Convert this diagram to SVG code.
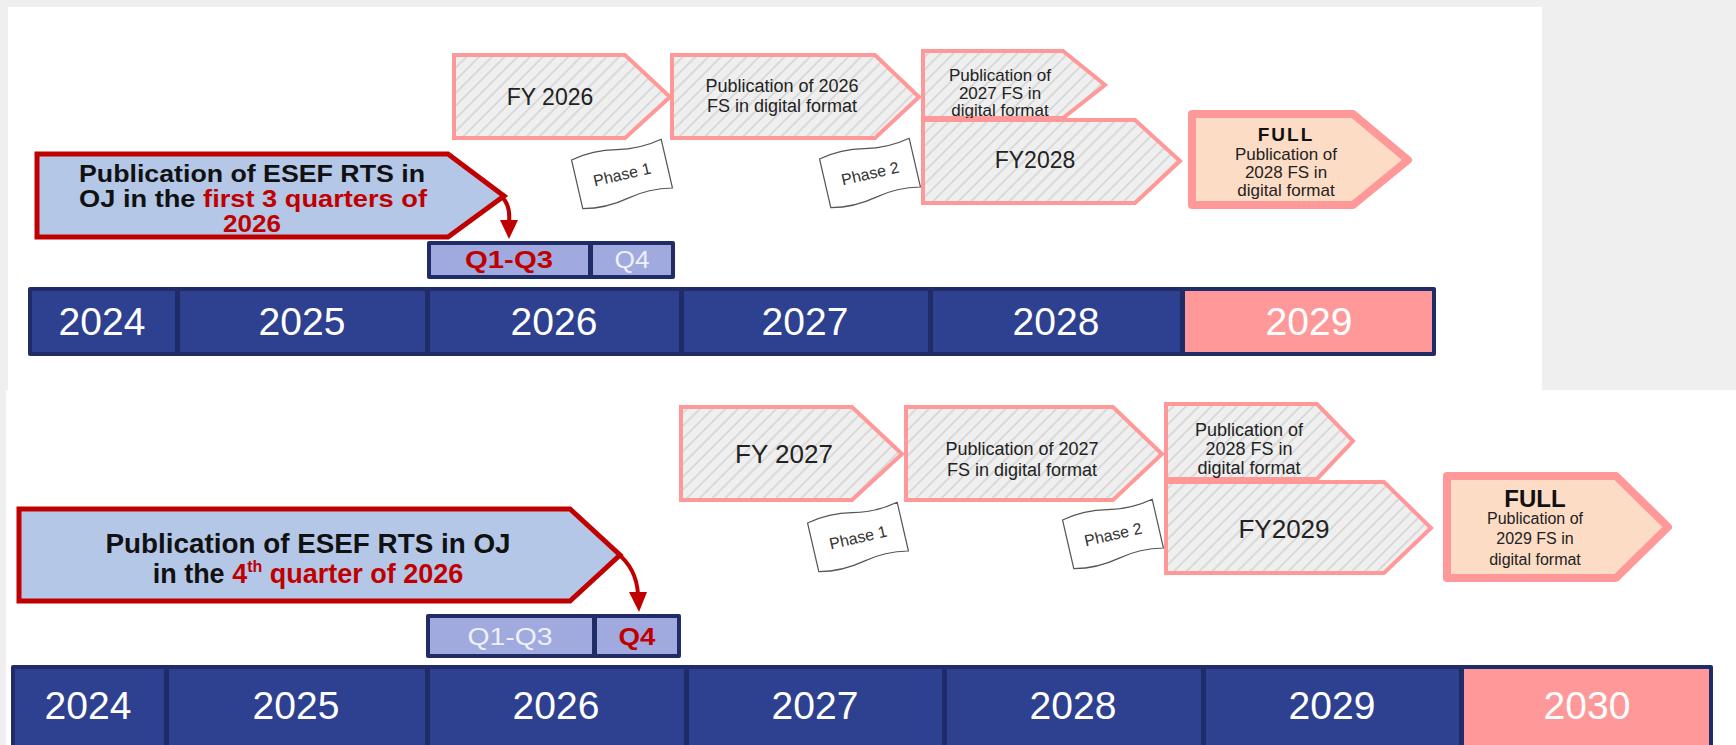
<svg xmlns="http://www.w3.org/2000/svg" width="1736" height="745" viewBox="0 0 1736 745">
<defs>
<pattern id="hatch" width="9" height="9" patternUnits="userSpaceOnUse" patternTransform="rotate(45)">
<rect width="9" height="9" fill="#efefef"/>
<line x1="1" y1="0" x2="1" y2="9" stroke="#d9d9d9" stroke-width="2"/>
</pattern>
<style>
text{font-family:"Liberation Sans",Arial,sans-serif;text-anchor:middle}
.yr{font-size:39px;fill:#ffffff}
.cell{fill:#2e4190}
.pink{fill:#ff9999}
.bar{fill:#1f2c68}
.q{fill:#a0aadf}
.qr{font-size:24px;font-weight:bold;fill:#c00000}
.qw{font-size:24px;fill:#eef0fa}
.hb{fill:url(#hatch);stroke:#ff9999;stroke-width:4;stroke-linejoin:miter}
.full{fill:#fddcc6;stroke:#ff9999;stroke-width:8;stroke-linejoin:round}
.rb{fill:#b4c7e7;stroke:#c00000;stroke-width:5;stroke-linejoin:miter}
.bt{font-size:23px;font-weight:bold;fill:#111}
.bt2{font-size:27px;font-weight:bold;fill:#111}
.red{fill:#c00000}
.fy{font-size:23px;fill:#222}
.fy2{font-size:26px;fill:#222}
.pub{font-size:18px;fill:#222}
.sm{font-size:17px;fill:#222}
.sm2{font-size:16px;fill:#222}
.fl{font-weight:bold;fill:#111}
.note{fill:#ffffff;stroke:#555;stroke-width:1.2}
.ph{font-size:16px;fill:#333}
.conn{fill:none;stroke:#c00000;stroke-width:4}
</style>
</defs>
<rect width="1736" height="745" fill="#efefef"/>
<rect x="8" y="7" width="1534" height="383" fill="#ffffff"/>
<rect x="6" y="390" width="1730" height="355" fill="#ffffff"/>

<!-- TOP PANEL -->
<g id="top-years">
<rect class="bar" x="28" y="287" width="1408" height="69" rx="2"/>
<rect class="cell" x="32" y="291" width="143" height="61"/>
<rect class="cell" x="180" y="291" width="245" height="61"/>
<rect class="cell" x="430" y="291" width="249" height="61"/>
<rect class="cell" x="684" y="291" width="244" height="61"/>
<rect class="cell" x="933" y="291" width="247" height="61"/>
<rect class="pink" x="1185" y="291" width="247" height="61"/>
<text class="yr" x="102" y="335">2024</text>
<text class="yr" x="302" y="335">2025</text>
<text class="yr" x="554" y="335">2026</text>
<text class="yr" x="805" y="335">2027</text>
<text class="yr" x="1056" y="335">2028</text>
<text class="yr" x="1309" y="335">2029</text>
</g>
<g id="top-quarters">
<rect class="bar" x="427" y="241" width="248" height="38" rx="2"/>
<rect class="q" x="431" y="245" width="157" height="30"/>
<rect class="q" x="593" y="245" width="78" height="30"/>
<text class="qr" x="509" y="268" textLength="88" lengthAdjust="spacingAndGlyphs">Q1-Q3</text>
<text class="qw" x="632" y="268" textLength="35" lengthAdjust="spacingAndGlyphs">Q4</text>
</g>
<g id="top-rts">
<path class="rb" d="M37,154 H448 L504,196 L448,237 H37 Z"/>
<text class="bt" x="252" y="182" textLength="346" lengthAdjust="spacingAndGlyphs">Publication of ESEF RTS in</text>
<text class="bt" x="253" y="207" textLength="348" lengthAdjust="spacingAndGlyphs">OJ in the <tspan class="red">first 3 quarters of</tspan></text>
<text class="bt red" x="252" y="232" textLength="58" lengthAdjust="spacingAndGlyphs">2026</text>
</g>
<g id="top-fy2026">
<path class="hb" d="M454,55 H625 L670,97 L625,138 H454 Z"/>
<text class="fy" x="550" y="105">FY 2026</text>
</g>
<g id="top-pub2026">
<path class="hb" d="M672,55 H875 L919,97 L875,138 H672 Z"/>
<text class="pub" x="782" y="92">Publication of 2026</text>
<text class="pub" x="782" y="112">FS in digital format</text>
</g>
<g id="top-pub2027">
<path class="hb" d="M923,51 H1063 L1105,85 L1063,118 H923 Z"/>
<text class="sm" x="1000" y="81">Publication of</text>
<text class="sm" x="1000" y="99">2027 FS in</text>
<text class="sm" x="1000" y="116">digital format</text>
</g>
<g id="top-fy2028">
<path class="hb" d="M923,120 H1135 L1180,161 L1135,203 H923 Z"/>
<text class="fy" x="1035" y="168">FY2028</text>
</g>
<g id="top-full">
<path class="full" d="M1192,114 H1353 L1408,160 L1353,205 H1192 Z"/>
<text class="fl" x="1286" y="141" style="font-size:19px;letter-spacing:2px">FULL</text>
<text class="sm" x="1286" y="160">Publication of</text>
<text class="sm" x="1286" y="178">2028 FS in</text>
<text class="sm" x="1286" y="196">digital format</text>
</g>
<g id="top-phase1" transform="translate(622,174) rotate(-13)">
<path class="note" d="M-46,-25 Q-23,-30 0,-25 T46,-25 L46,25 Q23,20 0,25 T-46,25 Z"/>
<text class="ph" x="0" y="6">Phase 1</text>
</g>
<g id="top-phase2" transform="translate(870,173) rotate(-13)">
<path class="note" d="M-46,-25 Q-23,-30 0,-25 T46,-25 L46,25 Q23,20 0,25 T-46,25 Z"/>
<text class="ph" x="0" y="6">Phase 2</text>
</g>

<!-- BOTTOM PANEL -->
<g id="bottom-years">
<rect class="bar" x="11" y="665" width="1702" height="84" rx="2"/>
<rect class="cell" x="15" y="669" width="149" height="80"/>
<rect class="cell" x="169" y="669" width="256" height="80"/>
<rect class="cell" x="430" y="669" width="254" height="80"/>
<rect class="cell" x="689" y="669" width="253" height="80"/>
<rect class="cell" x="947" y="669" width="254" height="80"/>
<rect class="cell" x="1206" y="669" width="253" height="80"/>
<rect class="pink" x="1464" y="669" width="245" height="76"/>
<text class="yr" x="88" y="719">2024</text>
<text class="yr" x="296" y="719">2025</text>
<text class="yr" x="556" y="719">2026</text>
<text class="yr" x="815" y="719">2027</text>
<text class="yr" x="1073" y="719">2028</text>
<text class="yr" x="1332" y="719">2029</text>
<text class="yr" x="1587" y="719">2030</text>
</g>
<g id="bottom-quarters">
<rect class="bar" x="426" y="614" width="255" height="44" rx="2"/>
<rect class="q" x="430" y="618" width="162" height="36"/>
<rect class="q" x="597" y="618" width="80" height="36"/>
<text class="qw" x="510" y="645" textLength="85" lengthAdjust="spacingAndGlyphs">Q1-Q3</text>
<text class="qr" x="637" y="645" textLength="37" lengthAdjust="spacingAndGlyphs">Q4</text>
</g>
<g id="bottom-rts">
<path class="rb" d="M19,509 H570 L620,555 L570,601 H19 Z"/>
<text class="bt2" x="308" y="553" textLength="405" lengthAdjust="spacingAndGlyphs">Publication of ESEF RTS in OJ</text>
<text class="bt2" x="308" y="583">in the <tspan class="red">4</tspan><tspan class="red" style="font-size:16px" dy="-11">th</tspan><tspan class="red" dy="11"> quarter of 2026</tspan></text>
</g>
<g id="bottom-fy2027">
<path class="hb" d="M681,407 H852 L902,454 L852,500 H681 Z"/>
<text class="fy2" x="784" y="463">FY 2027</text>
</g>
<g id="bottom-pub2027">
<path class="hb" d="M906,407 H1113 L1162,454 L1113,500 H906 Z"/>
<text class="pub" x="1022" y="455">Publication of 2027</text>
<text class="pub" x="1022" y="476">FS in digital format</text>
</g>
<g id="bottom-pub2028">
<path class="hb" d="M1166,404 H1317 L1353,441 L1317,479 H1166 Z"/>
<text class="pub" x="1249" y="436">Publication of</text>
<text class="pub" x="1249" y="455">2028 FS in</text>
<text class="pub" x="1249" y="474">digital format</text>
</g>
<g id="bottom-fy2029">
<path class="hb" d="M1166,482 H1384 L1431,528 L1384,573 H1166 Z"/>
<text class="fy2" x="1284" y="538">FY2029</text>
</g>
<g id="bottom-full">
<path class="full" d="M1447,476 H1616 L1668,527 L1616,578 H1447 Z"/>
<text class="fl" x="1535" y="507" style="font-size:24px">FULL</text>
<text class="sm2" x="1535" y="524">Publication of</text>
<text class="sm2" x="1535" y="544">2029 FS in</text>
<text class="sm2" x="1535" y="565">digital format</text>
</g>
<g id="bottom-phase1" transform="translate(858,537) rotate(-13)">
<path class="note" d="M-46,-25 Q-23,-30 0,-25 T46,-25 L46,25 Q23,20 0,25 T-46,25 Z"/>
<text class="ph" x="0" y="6">Phase 1</text>
</g>
<g id="bottom-phase2" transform="translate(1113,534) rotate(-13)">
<path class="note" d="M-46,-25 Q-23,-30 0,-25 T46,-25 L46,25 Q23,20 0,25 T-46,25 Z"/>
<text class="ph" x="0" y="6">Phase 2</text>
</g>

<g id="connectors">
<path class="conn" d="M501,196 C509,203 510,212 509,222"/>
<polygon class="red" points="500,220 518,220 509,239"/>
<path class="conn" d="M617,553 C631,564 637,578 638,594"/>
<polygon class="red" points="629,592 647,592 639,612"/>
</g>
</svg>
